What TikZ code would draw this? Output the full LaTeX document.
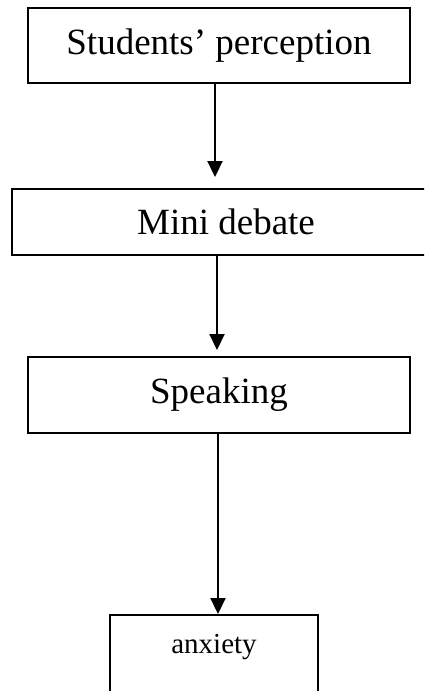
\documentclass[tikz,border=0pt]{standalone}
\usepackage{fontspec}
\setmainfont{Liberation Serif}
\usetikzlibrary{arrows.meta}

\tikzset{
  stage/.style={draw, line width=2pt, inner sep=0pt, font=\fontsize{37}{40}\selectfont},
  flow/.style={line width=2.2pt, -{Triangle[width=15pt,length=16pt]}}
}

\begin{document}
\begin{tikzpicture}[x=1pt, y=-1pt]
  \useasboundingbox (0,0) rectangle (424,691);
  \clip (0,0) rectangle (424,691);

  % stages of the framework
  \node[stage, minimum width=382pt, minimum height=75pt] (perc) at (219,45.5) {Students’ perception};
  \node[stage, minimum width=428pt, minimum height=66pt] (debate) at (226,222) {Mini debate};
  \node[stage, minimum width=382pt, minimum height=76pt] (speak) at (219,395) {Speaking};
  \node[stage, anchor=north, minimum width=208pt, text height=38pt, text depth=70pt,
        font=\fontsize{29}{32}\selectfont] (anx) at (214,614) {anxiety};

  % connectors
  \draw[flow] ([xshift=-4pt]perc.south) -- ([xshift=-11pt, yshift=11pt]debate.north);
  \draw[flow] ([xshift=-9pt]debate.south) -- ([xshift=-2pt, yshift=6pt]speak.north);
  \draw[flow] ([xshift=-1pt]speak.south) -- ([xshift=4pt]anx.north);
\end{tikzpicture}
\end{document}
